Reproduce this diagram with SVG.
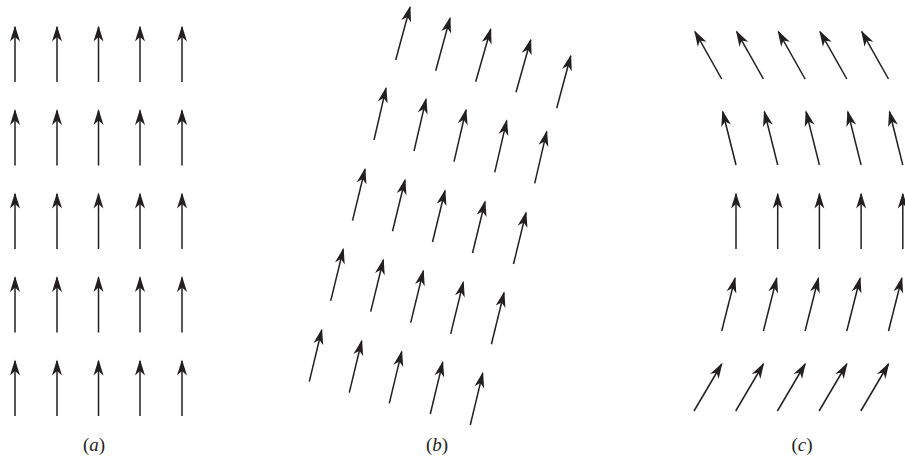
<svg xmlns="http://www.w3.org/2000/svg" width="905" height="462" viewBox="0 0 905 462">
<style>
.a{stroke:#231f20;stroke-width:1.5;fill:none;marker-end:url(#h)}
.lbl{font-family:"Liberation Serif","Times New Roman",serif;font-size:19px;fill:#231f20;text-anchor:middle}
.lbl tspan.i{font-style:italic}
</style>
<defs>
<marker id="h" markerUnits="userSpaceOnUse" orient="auto" refX="0" refY="0" markerWidth="20" markerHeight="20" overflow="visible">
<path d="M1.5,0 L-14.5,-5 L-10,0 L-14.5,5 Z" fill="#231f20"/>
</marker>
</defs>
<rect width="905" height="462" fill="#fff"/>
<g id="panel-a">
<line class="a" x1="15" y1="82" x2="15" y2="27"/><line class="a" x1="57" y1="82" x2="57" y2="27"/><line class="a" x1="98.5" y1="82" x2="98.5" y2="27"/><line class="a" x1="140" y1="82" x2="140" y2="27"/><line class="a" x1="182" y1="82" x2="182" y2="27"/>
<line class="a" x1="15" y1="165.5" x2="15" y2="110.5"/><line class="a" x1="57" y1="165.5" x2="57" y2="110.5"/><line class="a" x1="98.5" y1="165.5" x2="98.5" y2="110.5"/><line class="a" x1="140" y1="165.5" x2="140" y2="110.5"/><line class="a" x1="182" y1="165.5" x2="182" y2="110.5"/>
<line class="a" x1="15" y1="249" x2="15" y2="194"/><line class="a" x1="57" y1="249" x2="57" y2="194"/><line class="a" x1="98.5" y1="249" x2="98.5" y2="194"/><line class="a" x1="140" y1="249" x2="140" y2="194"/><line class="a" x1="182" y1="249" x2="182" y2="194"/>
<line class="a" x1="15" y1="332.5" x2="15" y2="277.5"/><line class="a" x1="57" y1="332.5" x2="57" y2="277.5"/><line class="a" x1="98.5" y1="332.5" x2="98.5" y2="277.5"/><line class="a" x1="140" y1="332.5" x2="140" y2="277.5"/><line class="a" x1="182" y1="332.5" x2="182" y2="277.5"/>
<line class="a" x1="15" y1="416" x2="15" y2="361"/><line class="a" x1="57" y1="416" x2="57" y2="361"/><line class="a" x1="98.5" y1="416" x2="98.5" y2="361"/><line class="a" x1="140" y1="416" x2="140" y2="361"/><line class="a" x1="182" y1="416" x2="182" y2="361"/>
<text class="lbl" x="94" y="451">(<tspan class="i">a</tspan>)</text>
</g>
<g id="panel-b">
<line class="a" x1="395.7" y1="60" x2="410" y2="7.3"/><line class="a" x1="435.7" y1="70.7" x2="450" y2="18.3"/><line class="a" x1="475.7" y1="81.7" x2="490.7" y2="29.3"/><line class="a" x1="516" y1="92.3" x2="530.7" y2="40"/><line class="a" x1="556.7" y1="108.3" x2="570.7" y2="56"/>
<line class="a" x1="374" y1="140" x2="386" y2="88.3"/><line class="a" x1="414" y1="151" x2="426" y2="99.3"/><line class="a" x1="454" y1="161.7" x2="466" y2="110"/><line class="a" x1="494.7" y1="172.4" x2="506.7" y2="120.7"/><line class="a" x1="534.7" y1="183.4" x2="546.7" y2="131.7"/>
<line class="a" x1="352.5" y1="220.6" x2="365" y2="169.3"/><line class="a" x1="392.5" y1="231.3" x2="405" y2="180"/><line class="a" x1="432.5" y1="242" x2="445" y2="190.7"/><line class="a" x1="472.5" y1="253" x2="485" y2="201.7"/><line class="a" x1="513.5" y1="264" x2="526" y2="212.7"/>
<line class="a" x1="330.7" y1="300.9" x2="343.3" y2="249.3"/><line class="a" x1="370.7" y1="311.6" x2="383.3" y2="260"/><line class="a" x1="410.7" y1="322.6" x2="423.3" y2="271"/><line class="a" x1="450.7" y1="333.9" x2="463.3" y2="282.3"/><line class="a" x1="491.4" y1="344.3" x2="504" y2="292.7"/>
<line class="a" x1="309.3" y1="381.7" x2="321.7" y2="330"/><line class="a" x1="349.3" y1="392.7" x2="361.7" y2="341"/><line class="a" x1="389.3" y1="403.4" x2="401.7" y2="351.7"/><line class="a" x1="430.3" y1="414" x2="442.7" y2="362.3"/><line class="a" x1="470.3" y1="425" x2="482.7" y2="373.3"/>
<text class="lbl" x="437" y="451">(<tspan class="i">b</tspan>)</text>
</g>
<g id="panel-c">
<line class="a" x1="721.7" y1="79" x2="695" y2="31.7"/><line class="a" x1="763.4" y1="79" x2="736.7" y2="31.7"/><line class="a" x1="805.1" y1="79" x2="778.4" y2="31.7"/><line class="a" x1="846.8" y1="79" x2="820.1" y2="31.7"/><line class="a" x1="888.5" y1="79" x2="861.8" y2="31.7"/>
<line class="a" x1="736" y1="165" x2="722.7" y2="111.7"/><line class="a" x1="777.7" y1="165" x2="764.4" y2="111.7"/><line class="a" x1="819.4" y1="165" x2="806.1" y2="111.7"/><line class="a" x1="861.1" y1="165" x2="847.8" y2="111.7"/><line class="a" x1="902.8" y1="165" x2="889.5" y2="111.7"/>
<line class="a" x1="736" y1="249" x2="736" y2="194"/><line class="a" x1="777.7" y1="249" x2="777.7" y2="194"/><line class="a" x1="819.4" y1="249" x2="819.4" y2="194"/><line class="a" x1="861.1" y1="249" x2="861.1" y2="194"/><line class="a" x1="902.8" y1="249" x2="902.8" y2="194"/>
<line class="a" x1="721.7" y1="331" x2="735" y2="278.3"/><line class="a" x1="763.4" y1="331" x2="776.7" y2="278.3"/><line class="a" x1="805.1" y1="331" x2="818.4" y2="278.3"/><line class="a" x1="846.8" y1="331" x2="860.1" y2="278.3"/><line class="a" x1="888.5" y1="331" x2="901.8" y2="278.3"/>
<line class="a" x1="694" y1="411" x2="721.7" y2="364"/><line class="a" x1="735.7" y1="411" x2="763.4" y2="364"/><line class="a" x1="777.4" y1="411" x2="805.1" y2="364"/><line class="a" x1="819.1" y1="411" x2="846.8" y2="364"/><line class="a" x1="860.8" y1="411" x2="888.5" y2="364"/>
<text class="lbl" x="802" y="451">(<tspan class="i">c</tspan>)</text>
</g>
</svg>
